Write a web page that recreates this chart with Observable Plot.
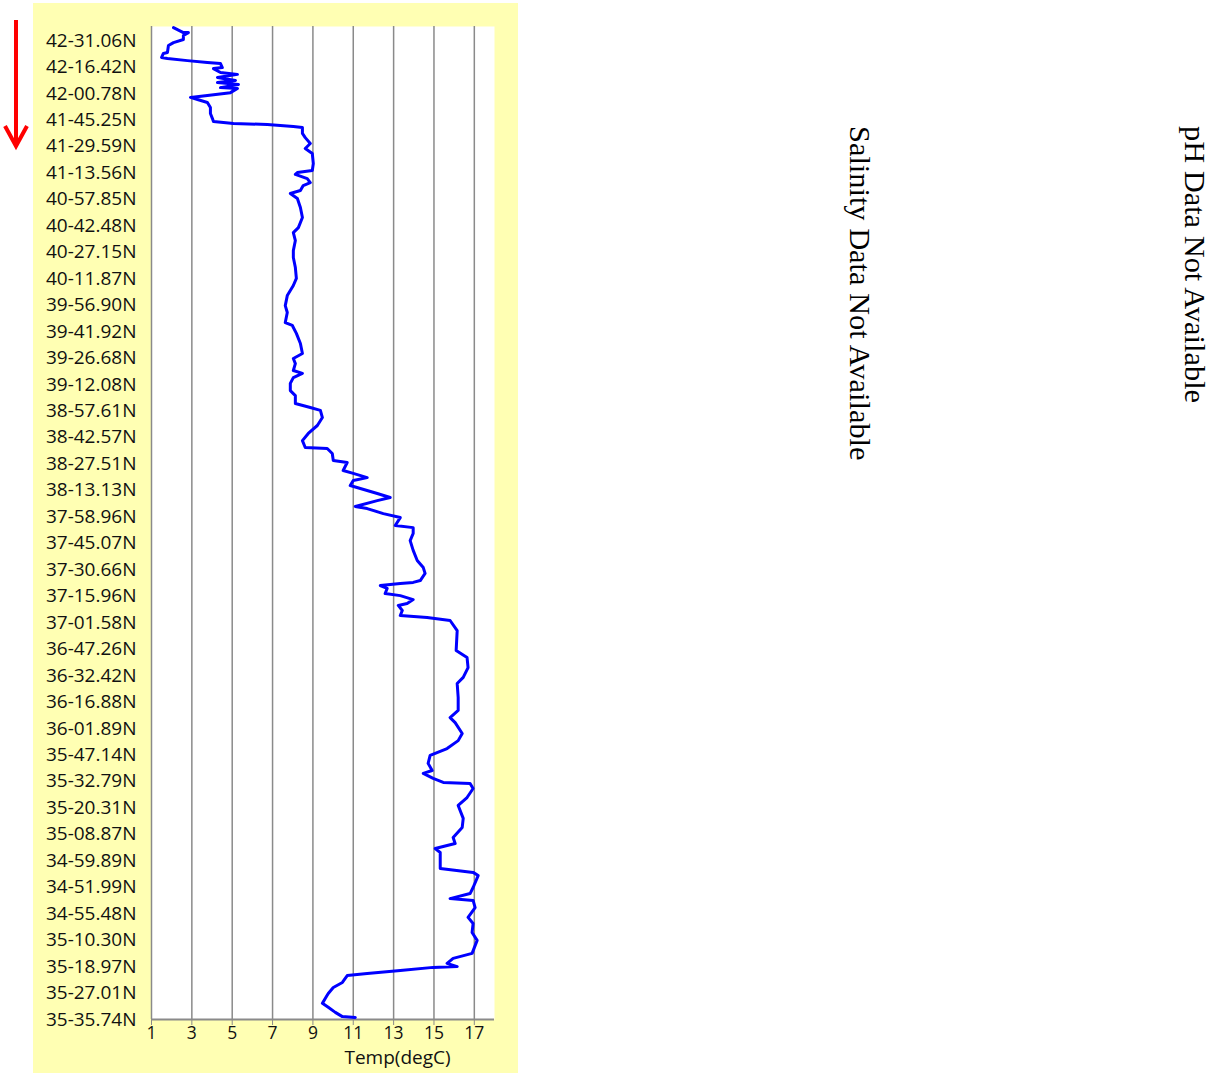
<!DOCTYPE html>
<html><head><meta charset="utf-8">
<script src="https://cdn.jsdelivr.net/npm/d3@7"></script>
<script src="https://cdn.jsdelivr.net/npm/@observablehq/plot@0.6"></script>
<style>
html,body{margin:0;padding:0;background:#fff;}
#page{position:relative;width:1215px;height:1074px;overflow:hidden;}
#panel{position:absolute;left:33px;top:3px;width:485px;height:1070px;background:#ffffb3;}
#chart{position:absolute;left:0;top:0;}
.vtext{position:absolute;top:126px;font-family:"Liberation Serif","Times New Roman",serif;font-size:30.4px;line-height:30px;white-space:nowrap;transform-origin:0 0;transform:rotate(90deg);color:#000;}
#arrow{position:absolute;left:0;top:0;}
</style></head>
<body>
<div id="page">
  <div id="panel"></div>
  <div id="chart"></div>
  <svg id="arrow" width="40" height="160">
    <line x1="16" y1="20" x2="16" y2="144" stroke="#ff0000" stroke-width="4"/>
    <polyline points="5,126 16,146 27,126" fill="none" stroke="#ff0000" stroke-width="4" stroke-linejoin="miter"/>
  </svg>
  <div class="vtext" style="left:875px">Salinity Data Not Available</div>
  <div class="vtext" style="left:1210px">pH Data Not Available</div>
</div>
<script>
// Latitude labels along the track (top to bottom), one every 10 sample positions
const latLabels = ["42-31.06N","42-16.42N","42-00.78N","41-45.25N","41-29.59N","41-13.56N","40-57.85N","40-42.48N","40-27.15N","40-11.87N","39-56.90N","39-41.92N","39-26.68N","39-12.08N","38-57.61N","38-42.57N","38-27.51N","38-13.13N","37-58.96N","37-45.07N","37-30.66N","37-15.96N","37-01.58N","36-47.26N","36-32.42N","36-16.88N","36-01.89N","35-47.14N","35-32.79N","35-20.31N","35-08.87N","34-59.89N","34-51.99N","34-55.48N","35-10.30N","35-18.97N","35-27.01N","35-35.74N"];
const labelPositions = latLabels.map((_, i) => i * 10);
const tempTicks = [1, 3, 5, 7, 9, 11, 13, 15, 17];

// Track position (sample index) and temperature (degC)
const position = [-4.9,-3.0,-3.0,-1.9,-0.4,0.8,1.9,4.5,4.9,6.4,6.8,7.6,8.3,8.7,10.2,10.6,12.1,12.8,14.0,15.1,15.9,16.6,17.8,18.1,19.7,20.8,21.5,22.3,23.4,25.3,27.6,29.5,30.6,31.4,31.7,32.5,32.9,35.1,36.7,38.9,40.8,42.7,46.5,49.1,49.9,50.6,52.2,53.7,54.8,56.7,57.8,59.7,63.1,66.9,70.7,72.6,75.6,79.4,82.0,85.8,89.9,92.6,94.5,96.4,100.2,102.8,106.6,107.7,110.7,114.5,118.3,120.2,122.1,124.7,125.8,127.4,129.6,132.3,134.2,137.2,138.7,139.8,142.5,145.5,148.5,151.2,153.8,154.2,156.1,158.7,159.5,162.5,163.6,165.2,166.3,168.2,169.3,171.2,172.7,173.9,176.1,176.9,178.8,180.3,183.3,184.1,186.3,189.0,192.7,196.5,199.2,201.4,204.1,204.8,205.2,206.0,207.1,209.0,209.8,211.3,212.8,213.5,215.4,217.3,218.1,219.2,223.0,230.5,233.2,237.0,240.7,243.0,248.3,253.2,255.9,257.8,261.9,264.6,267.6,270.2,273.2,275.9,277.0,278.9,280.4,280.8,282.7,286.1,289.1,294.0,297.4,301.2,303.5,305.4,306.9,312.9,314.4,315.6,320.1,322.4,324.3,325.0,327.7,331.4,333.7,337.1,340.1,345.0,346.9,348.8,350.0,350.3,351.5,352.6,353.4,356.0,357.9,360.2,362.1,363.9,365.4,367.3,368.9,369.2];
const temperature = [2.09,2.58,2.83,2.58,2.58,2.09,1.84,1.79,1.59,1.50,1.79,2.78,3.77,4.42,4.51,4.07,4.42,5.26,4.27,5.16,4.27,5.31,4.42,5.26,4.91,3.77,2.93,3.28,3.77,3.92,3.92,4.02,4.07,5.06,6.74,8.03,8.48,8.48,8.62,8.87,8.62,8.97,9.02,8.97,8.23,8.13,8.72,8.87,8.52,8.38,7.88,8.23,8.38,8.48,8.28,8.03,8.13,8.03,8.03,8.13,8.18,8.03,7.88,7.73,7.63,7.73,7.63,7.98,8.18,8.38,8.48,8.03,8.13,8.03,8.48,8.03,7.88,7.88,8.13,8.13,8.87,9.37,9.47,9.22,8.77,8.48,8.62,9.71,9.96,10.01,10.70,10.50,11.00,11.69,11.00,10.85,11.35,12.19,12.83,12.19,11.10,11.69,12.49,13.33,13.08,13.97,13.97,13.82,13.97,14.17,14.47,14.56,14.32,13.97,13.33,12.34,12.68,12.58,13.33,13.97,13.67,13.23,13.43,13.33,14.66,15.80,16.15,16.10,16.64,16.69,16.45,16.15,16.20,16.20,15.80,16.05,16.40,16.20,15.65,14.81,14.71,14.91,14.47,14.96,15.46,16.79,16.94,16.64,16.20,16.45,16.40,15.95,16.05,15.06,15.31,15.31,16.94,17.19,16.94,16.79,15.80,16.94,17.04,16.69,16.94,16.89,17.14,16.89,15.95,15.65,16.15,14.96,13.33,11.69,10.70,10.46,10.01,9.76,9.61,9.47,9.76,10.11,10.46,11.10];

const track = position.map((p, i) => ({pos: p, temp: temperature[i]}));

const chart = Plot.plot({
  width: 518,
  height: 1073,
  marginLeft: 151,
  marginRight: 24,
  marginTop: 26,
  marginBottom: 54,
  style: {background: "transparent", fontFamily: "'Open Sans', sans-serif", fontSize: "19px", color: "#111", overflow: "visible"},
  x: {domain: [1, 18], label: null},
  y: {domain: [-5.3, 370], reverse: true, label: null},
  marks: [
    Plot.frame({fill: "white", stroke: "none"}),
    Plot.ruleX(tempTicks, {stroke: "#8a8a8a", strokeWidth: 1.5}),
    Plot.ruleY([370], {stroke: "#8a8a8a", strokeWidth: 2}),
    Plot.axisY(labelPositions, {tickSize: 0, tickPadding: 15, tickFormat: d => latLabels[Math.round(d / 10)], fill: "#111", fontSize: 19, label: null}),
    Plot.axisX(tempTicks, {tickSize: 6, tickPadding: 1, stroke: "#8a8a8a", fill: "#111", fontSize: 17.5, label: null}),
    Plot.text(["Temp(degC)"], {text: d => d, frameAnchor: "bottom", dx: 74.5, dy: 38.5, lineAnchor: "middle", fontSize: 19, fill: "#111"}),
    Plot.line(track, {x: "temp", y: "pos", stroke: "#0000ff", strokeWidth: 3, strokeLinejoin: "round"})
  ]
});
document.getElementById("chart").appendChild(chart);
</script>
</body></html>
